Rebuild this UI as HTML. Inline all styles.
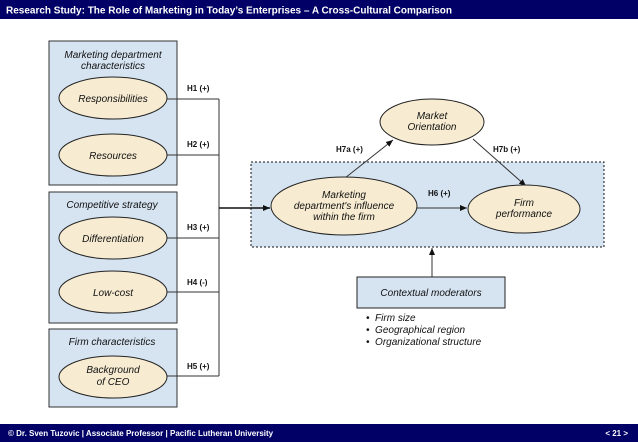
<!DOCTYPE html>
<html><head><meta charset="utf-8"><style>
html,body{margin:0;padding:0;background:#fff}
svg{display:block}
.h{font-family:"Liberation Sans",sans-serif;font-weight:bold;font-size:8px;fill:#111}
.i{font-family:"Liberation Sans",sans-serif;font-style:italic;font-size:10px;fill:#111}
</style></head><body>
<svg width="638" height="442" viewBox="0 0 638 442">
<defs>
<marker id="a" markerWidth="8" markerHeight="8" refX="7" refY="4" orient="auto" markerUnits="userSpaceOnUse"><path d="M0,1 L7,4 L0,7z" fill="#111"/></marker>
</defs>
<rect x="0" y="0" width="638" height="19" fill="#000066"/>
<text x="6" y="13.5" font-family="Liberation Sans,sans-serif" font-weight="bold" font-size="10" fill="#fff">Research Study: The Role of Marketing in Today’s Enterprises – A Cross-Cultural Comparison</text>
<rect x="0" y="424" width="638" height="18" fill="#000066"/>
<text x="8" y="436" font-family="Liberation Sans,sans-serif" font-weight="bold" font-size="8" fill="#fff">© Dr. Sven Tuzovic | Associate Professor | Pacific Lutheran University</text>
<text x="628" y="436" text-anchor="end" font-family="Liberation Sans,sans-serif" font-weight="bold" font-size="8" fill="#fff">&lt; 21 &gt;</text>

<rect x="251" y="162" width="353" height="85" fill="#d6e4f2" stroke="#111" stroke-dasharray="2,2"/>

<rect x="49" y="41" width="128" height="144" fill="#d6e4f2" stroke="#333"/>
<rect x="49" y="192" width="128" height="131" fill="#d6e4f2" stroke="#333"/>
<rect x="49" y="329" width="128" height="78" fill="#d6e4f2" stroke="#333"/>

<g fill="none" stroke="#333" stroke-width="1">
<path d="M166,99 H219 M166,155 H219 M166,238 H219 M166,292 H219 M166,376 H219 M219,99 V376"/>
</g>
<line x1="219" y1="208" x2="270" y2="208" stroke="#111" stroke-width="1.5" marker-end="url(#a)"/>
<line x1="417" y1="208" x2="467" y2="208" stroke="#333" marker-end="url(#a)"/>
<line x1="345" y1="178" x2="393" y2="140" stroke="#333" marker-end="url(#a)"/>
<line x1="473" y1="139" x2="526" y2="186" stroke="#333" marker-end="url(#a)"/>
<line x1="432" y1="277" x2="432" y2="248" stroke="#333" marker-end="url(#a)"/>

<g fill="#f7ecd2" stroke="#222">
<ellipse cx="113" cy="98" rx="54" ry="21"/>
<ellipse cx="113" cy="155" rx="54" ry="21"/>
<ellipse cx="113" cy="238" rx="54" ry="21"/>
<ellipse cx="113" cy="292" rx="54" ry="21"/>
<ellipse cx="113" cy="377" rx="54" ry="21"/>
<ellipse cx="344" cy="206" rx="73" ry="29"/>
<ellipse cx="524" cy="209" rx="56" ry="24"/>
<ellipse cx="432" cy="122" rx="52" ry="23"/>
</g>
<rect x="357" y="277" width="148" height="31" fill="#d6e4f2" stroke="#222"/>

<g class="i" text-anchor="middle">
<text x="113" y="58">Marketing department</text>
<text x="113" y="69">characteristics</text>
<text x="113" y="102">Responsibilities</text>
<text x="113" y="159">Resources</text>
<text x="112" y="208">Competitive strategy</text>
<text x="113" y="242">Differentiation</text>
<text x="113" y="296">Low-cost</text>
<text x="112" y="345">Firm characteristics</text>
<text x="113" y="373">Background</text>
<text x="113" y="385">of CEO</text>
<text x="344" y="198">Marketing</text>
<text x="344" y="209">department's influence</text>
<text x="344" y="220">within the firm</text>
<text x="524" y="206">Firm</text>
<text x="524" y="217">performance</text>
<text x="432" y="119">Market</text>
<text x="432" y="130">Orientation</text>
<text x="431" y="296">Contextual moderators</text>
</g>
<g class="i">
<text x="366" y="321">•&#160; Firm size</text>
<text x="366" y="333">•&#160; Geographical region</text>
<text x="366" y="345">•&#160; Organizational structure</text>
</g>
<g class="h">
<text x="187" y="91">H1 (+)</text>
<text x="187" y="147">H2 (+)</text>
<text x="187" y="230">H3 (+)</text>
<text x="187" y="285">H4 (-)</text>
<text x="187" y="369">H5 (+)</text>
<text x="336" y="152">H7a (+)</text>
<text x="493" y="152">H7b (+)</text>
<text x="428" y="196">H6 (+)</text>
</g>
</svg>
</body></html>
